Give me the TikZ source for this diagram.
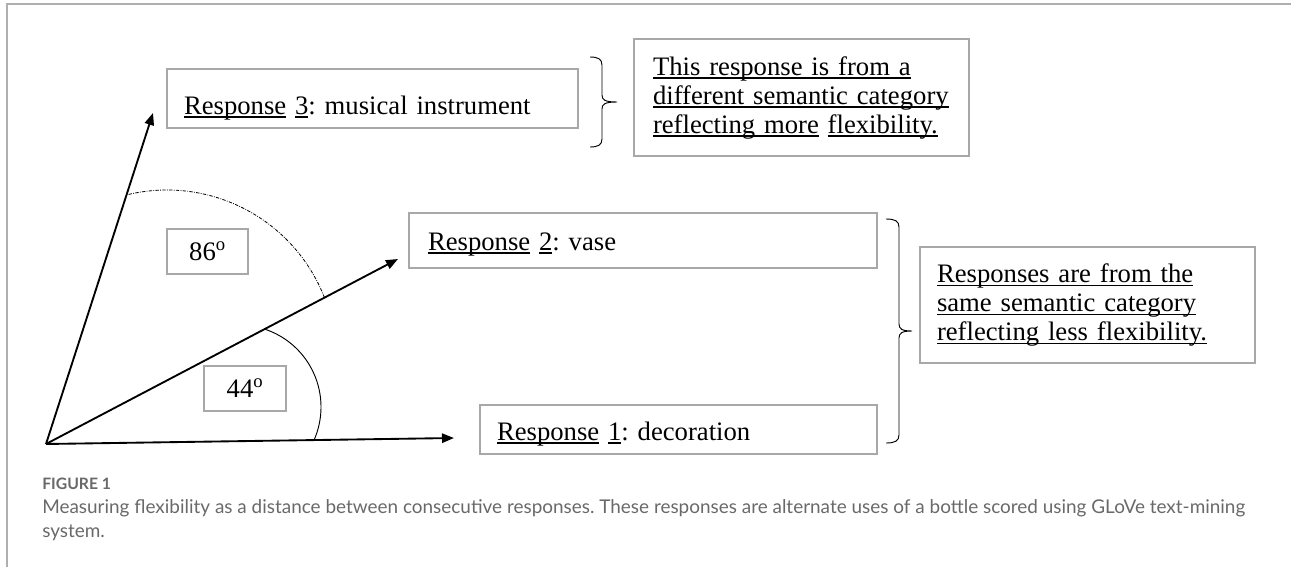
\documentclass[tikz,border=0pt]{standalone}
\usepackage{fontspec}
\setmainfont{Liberation Serif}
\newfontfamily\capfont{Lato}
\newsavebox\ulbox
\newcommand\myul[1]{\leavevmode\sbox\ulbox{#1}\rlap{\rule[-2.8pt]{\wd\ulbox}{1.1pt}}\usebox\ulbox}
\usetikzlibrary{arrows.meta,calc}
\definecolor{boxgray}{RGB}{168,168,168}
\definecolor{framegray}{RGB}{175,175,175}
\definecolor{capgray}{RGB}{105,105,105}
\frenchspacing
\begin{document}
\frenchspacing
\begin{tikzpicture}[x=0.75pt,y=-0.75pt,
  every node/.style={font=\fontsize{20pt}{21.75pt}\selectfont},
  respbox/.style={draw=boxgray,line width=1.3pt,anchor=north west,inner ysep=0pt,outer sep=0pt,align=left},
  anglebox/.style={draw=boxgray,line width=1.3pt,anchor=north west,inner sep=0pt,outer sep=0pt},
  vec/.style={line width=1.4pt,-{Triangle[length=9pt,width=7pt]}},
  brc/.style={line width=0.7pt},
  dashdotarc/.style={line width=0.6pt,dash pattern=on 2.5pt off 1pt on 0.6pt off 1pt},
  solidarc/.style={line width=0.7pt},
  capstyle/.style={anchor=base west,inner sep=0pt,text=capgray,font={\capfont\fontsize{14.2pt}{17pt}\selectfont}},
  figstyle/.style={anchor=base west,inner sep=0pt,text=capgray,font={\capfont\bfseries\fontsize{11.8pt}{13pt}\selectfont}}
]
\useasboundingbox (0,0) rectangle (1291,567);
% frame
\coordinate (f1) at (1291,4);
\coordinate (f2) at (7,4);
\coordinate (f3) at (7,567);
\draw[framegray,line width=0.9pt] (f1) -- (f2) -- (f3);

% response boxes
\node[respbox,text width=282.75pt,inner xsep=12.75pt,text height=33.75pt,text depth=10.5pt] (r3) at (167,69)
  {\myul{Response} \myul{3}: musical instrument};
\node[respbox,text width=322.5pt,inner xsep=14.25pt,text height=27.75pt,text depth=13.5pt] (r2) at (409,213)
  {\myul{Response} \myul{2}: vase};
\node[respbox,text width=272.25pt,inner xsep=12.75pt,text height=26.25pt,text depth=10.5pt] (r1) at (480,405)
  {\myul{Response} \myul{1}: decoration};

% explanation boxes
\node[respbox,text width=222.75pt,inner xsep=14.25pt,minimum height=87.75pt] (tr) at (634,39)
  {\myul{This response is from a}\\ \myul{different semantic category}\\ \myul{reflecting more} \myul{flexibility.}};
\node[respbox,text width=225.75pt,inner xsep=12.75pt,minimum height=87pt] (rt) at (920,247)
  {\myul{Responses are from the}\\ \myul{same semantic category}\\ \myul{reflecting less flexibility.}};

% angle boxes
\node[anglebox,minimum width=60.75pt,minimum height=33.75pt] (a86) at (167,229) {86\textsuperscript{o}};
\node[anglebox,minimum width=61.5pt,minimum height=33.75pt] (a44) at (204,366) {44\textsuperscript{o}};

% vectors
\coordinate (O) at (46,444);
\coordinate (t3) at (153,113);
\coordinate (t2) at (398,259);
\coordinate (t1) at (454,438);
\draw[vec] (O) -- (t3);
\draw[vec] (O) -- (t2);
\draw[vec] (O) -- (t1);

% angle arcs
\draw[dashdotarc] plot[domain=-21.3:-103.9,samples=80,smooth] ({167+169*cos(\x)},{359+169*sin(\x)});
\draw[solidarc] plot[domain=-71.8:23.8,samples=60,smooth] ({239+82*cos(\x)},{407+82*sin(\x)});

% braces
\coordinate (b1t) at (590,57);
\coordinate (b1b) at (590,147);
\draw[brc] (b1t) .. controls (598,57) and (602,59) .. (602,65) -- (602,95)
  .. controls (602,100) and (605,102) .. (617,102)
  .. controls (605,102) and (602,104) .. (602,109) -- (602,139)
  .. controls (602,145) and (598,147) .. (b1b);
\coordinate (b2t) at (886,219);
\coordinate (b2b) at (886,443);
\draw[brc] (b2t) .. controls (895,219) and (899,221) .. (899,227) -- (899,324)
  .. controls (899,329) and (902,331) .. (912,331)
  .. controls (902,331) and (899,333) .. (899,338) -- (899,435)
  .. controls (899,441) and (895,443) .. (b2b);

% caption
\node[figstyle] (fig) at (42,489) {FIGURE 1};
\node[capstyle] (cap1) at (42,513) {Measuring flexibility as a distance between consecutive responses. These responses are alternate uses of a bottle scored using GLoVe text-mining};
\node[capstyle] (cap2) at (42,537) {system.};
\end{tikzpicture}
\end{document}
